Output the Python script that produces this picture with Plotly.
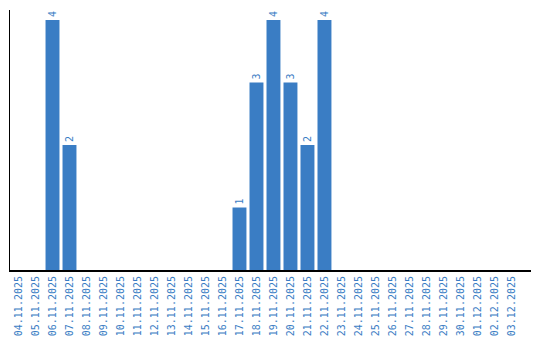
import plotly.graph_objects as go

dates = ["04.11.2025", "05.11.2025", "06.11.2025", "07.11.2025", "08.11.2025",
         "09.11.2025", "10.11.2025", "11.11.2025", "12.11.2025", "13.11.2025",
         "14.11.2025", "15.11.2025", "16.11.2025", "17.11.2025", "18.11.2025",
         "19.11.2025", "20.11.2025", "21.11.2025", "22.11.2025", "23.11.2025",
         "24.11.2025", "25.11.2025", "26.11.2025", "27.11.2025", "28.11.2025",
         "29.11.2025", "30.11.2025", "01.12.2025", "02.12.2025", "03.12.2025"]
counts = [0, 0, 4, 2, 0, 0, 0, 0, 0, 0, 0, 0, 0, 1, 3, 4, 3, 2, 4, 0,
          0, 0, 0, 0, 0, 0, 0, 0, 0, 0]

blue = "#3a7dc4"
labels = [str(v) if v > 0 else "" for v in counts]

fig = go.Figure(go.Bar(
    x=dates, y=counts, marker_color=blue, marker_line_width=0,
    text=labels, textposition="outside", textangle=-90,
    textfont=dict(family="DejaVu Sans Mono", size=10, color=blue),
    cliponaxis=False,
))
fig.update_layout(
    width=540, height=340,
    margin=dict(l=10, r=9, t=10, b=70, autoexpand=False),
    paper_bgcolor="white", plot_bgcolor="white",
    bargap=0.18, showlegend=False,
    font=dict(family="DejaVu Sans Mono", size=10, color=blue),
)
fig.update_xaxes(type="category", tickangle=-90, showline=True, linecolor="black",
                 linewidth=2, ticks="", showgrid=False, automargin=False,
                 range=[-0.5, 30.15],
                 tickfont=dict(family="DejaVu Sans Mono", size=10, color=blue))
fig.update_yaxes(range=[0, 4.16], showline=True, linecolor="black", linewidth=1,
                 showticklabels=False, ticks="", showgrid=False, zeroline=False,
                 automargin=False)
fig.write_html("out.html")
